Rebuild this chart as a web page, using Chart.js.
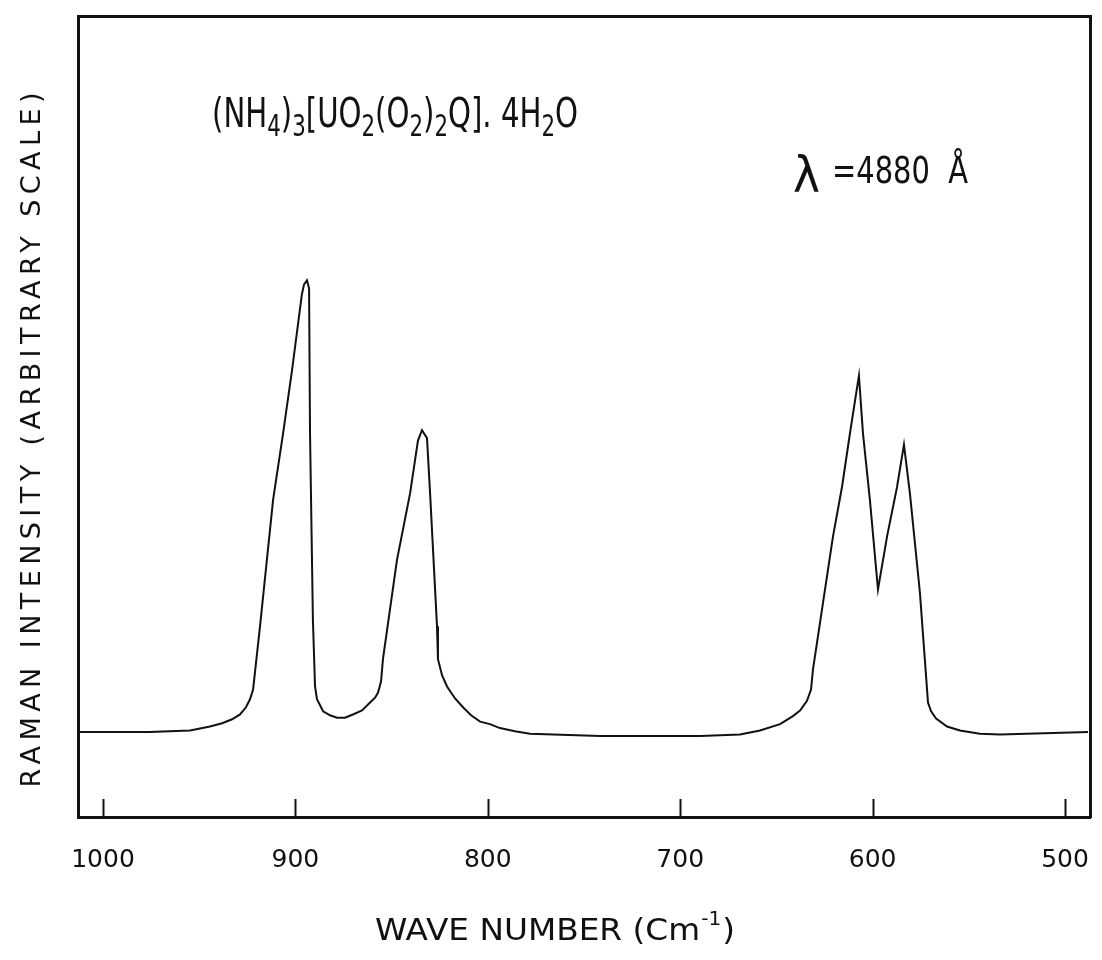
<!DOCTYPE html>
<html>
<head>
<meta charset="utf-8">
<title>Raman spectrum</title>
<script src="https://cdn.jsdelivr.net/npm/chart.js@4.4.1/dist/chart.umd.min.js"></script>
<style>
  html, body { margin: 0; padding: 0; background: #fff; }
  #wrap { width: 1102px; height: 960px; }
</style>
</head>
<body>
<div id="wrap"><canvas id="c" width="1102" height="960"></canvas></div>
<script>
// Raman trace: wave number (cm^-1) and relative intensity (arbitrary units, 0-100)
const waveNumbers = [1012.5, 976, 954.8, 944.4, 938.1, 932.9, 928.8, 925.7, 923.6, 922.0,
  918.4, 911.6, 906.4, 901.8, 896.6, 895.5, 894.0, 892.9, 892.4, 890.9,
  889.8, 888.8, 885.6, 882.0, 878.4, 874.2, 870.1, 865.4, 861.2, 858.6,
  857.1, 855.5, 854.5, 847.2, 840.4, 836.3, 834.2, 831.6, 830.0, 826.4,
  825.9, 823.8, 821.2, 817.0, 812.9, 808.7, 804.0, 798.9, 793.7, 785.9,
  778.1, 741.7, 689.6, 668.9, 658.5, 648.1, 641.4, 637.7, 634.1, 632.0,
  631.0, 625.8, 620.6, 615.9, 611.7, 607.1, 605.0, 601.4, 597.2, 592.5,
  587.3, 583.7, 580.6, 575.4, 571.2, 569.6, 567.0, 561.3, 554.6, 544.2,
  533.8, 488.0];
const intensity = [10.6, 10.6, 10.8, 11.3, 11.7, 12.2, 12.8, 13.7, 14.7, 15.9,
  23.8, 39.6, 47.9, 55.7, 65.3, 66.5, 67.0, 66.0, 47.9, 24.6,
  16.3, 14.7, 13.2, 12.7, 12.4, 12.4, 12.8, 13.3, 14.3, 14.9,
  15.5, 16.9, 19.7, 32.1, 40.4, 47.0, 48.3, 47.3, 40.4, 23.8,
  19.7, 17.7, 16.3, 14.8, 13.7, 12.7, 11.9, 11.6, 11.1, 10.7,
  10.4, 10.1, 10.1, 10.3, 10.8, 11.6, 12.6, 13.3, 14.5, 15.9,
  18.4, 26.7, 35.0, 41.2, 48.0, 55.1, 47.9, 39.6, 28.4, 35.0,
  41.2, 46.5, 40.4, 28.0, 14.3, 13.2, 12.3, 11.3, 10.8, 10.4,
  10.3, 10.6];
const xTickValues = [1000, 900, 800, 700, 600, 500];
const xRange = [487, 1013];
const yRange = [0, 100];

const xTitle = 'WAVE NUMBER (Cm';
const xTitleSup = '-1';
const yTitle = 'RAMAN INTENSITY (ARBITRARY SCALE)';
// compound formula as [text, isSubscript] pieces
const formulaPieces = [['(NH', false], ['4', true], [')', false], ['3', true], ['[UO', false], ['2', true],
  ['(O', false], ['2', true], [')', false], ['2', true], ['Q]. 4H', false], ['2', true], ['O', false]];
const lambdaSymbol = 'λ';
const lambdaValue = '=4880  Å';

const INK = '#111';
const FAMILY = '"DejaVu Sans", "Liberation Sans", sans-serif';

const points = waveNumbers.map((w, i) => ({ x: w, y: intensity[i] }));

// short tick marks drawn inward from the bottom frame
const innerTicks = {
  id: 'innerTicks',
  afterDatasetsDraw(chart) {
    const { ctx, chartArea } = chart;
    const xs = chart.scales.x;
    ctx.save();
    ctx.strokeStyle = INK;
    ctx.lineWidth = 2;
    xTickValues.forEach(v => {
      const px = Math.round(xs.getPixelForValue(v)) + 0.5;
      ctx.beginPath();
      ctx.moveTo(px, chartArea.bottom);
      ctx.lineTo(px, chartArea.bottom - 18);
      ctx.stroke();
    });
    ctx.restore();
  }
};

function spacedText(ctx, text, cx, cy, target) {
  ctx.letterSpacing = '0px';
  const natural = ctx.measureText(text).width;
  const n = Array.from(text).length;
  const sp = (target - natural) / (n - 1);
  ctx.letterSpacing = sp + 'px';
  ctx.textAlign = 'left';
  ctx.fillText(text, cx - target / 2, cy);
  ctx.letterSpacing = '0px';
}

// axis titles and annotations
const labels = {
  id: 'labels',
  afterDraw(chart) {
    const ctx = chart.ctx;
    ctx.save();
    ctx.fillStyle = INK;
    ctx.textBaseline = 'alphabetic';

    // y axis title, rotated
    ctx.save();
    ctx.translate(40, 440);
    ctx.rotate(-Math.PI / 2);
    ctx.font = '27px ' + FAMILY;
    spacedText(ctx, yTitle, 0, 0, 695);
    ctx.restore();

    // x axis title with superscript
    ctx.save();
    ctx.font = '31px ' + FAMILY;
    const mainW = ctx.measureText(xTitle).width;
    ctx.font = '19px ' + FAMILY;
    const supW = ctx.measureText(xTitleSup).width;
    ctx.font = '31px ' + FAMILY;
    const closeW = ctx.measureText(')').width;
    const total = mainW + supW + closeW + 2;
    const target = 360;
    const s = target / total;
    ctx.translate(555 - target / 2, 940);
    ctx.scale(s, 1);
    ctx.textAlign = 'left';
    ctx.fillText(xTitle, 0, 0);
    ctx.font = '19px ' + FAMILY;
    ctx.fillText(xTitleSup, mainW + 1, -15);
    ctx.font = '31px ' + FAMILY;
    ctx.fillText(')', mainW + supW + 2, 0);
    ctx.restore();

    // compound formula
    ctx.save();
    const big = '41px ' + FAMILY, small = '30px ' + FAMILY;
    let w = 0;
    formulaPieces.forEach(([t, sub]) => { ctx.font = sub ? small : big; w += ctx.measureText(t).width; });
    const fs = 366 / w;
    ctx.translate(212, 127);
    ctx.scale(fs, 1);
    let cx = 0;
    formulaPieces.forEach(([t, sub]) => {
      ctx.font = sub ? small : big;
      ctx.fillText(t, cx, sub ? 9 : 0);
      cx += ctx.measureText(t).width;
    });
    ctx.restore();

    // excitation wavelength
    ctx.save();
    ctx.font = '50px ' + FAMILY;
    const lw = ctx.measureText(lambdaSymbol).width;
    ctx.translate(793, 192);
    ctx.scale(27 / lw, 1);
    ctx.fillText(lambdaSymbol, 0, 0);
    ctx.restore();

    ctx.save();
    ctx.font = '38px ' + FAMILY;
    const vw = ctx.measureText(lambdaValue).width;
    ctx.translate(832, 183);
    ctx.scale(136 / vw, 1);
    ctx.fillText(lambdaValue, 0, 0);
    ctx.restore();

    ctx.restore();
  }
};

const frameBorder = { display: true, color: INK, width: 3 };

// fixed box sizes so the plot frame sits at a set place on the canvas
function fixBox(size, horizontal) {
  return s => {
    if (horizontal) s.height = size; else s.width = size;
    s.paddingLeft = 0; s.paddingRight = 0; s.paddingTop = 0; s.paddingBottom = 0;
  };
}

new Chart(document.getElementById('c'), {
  type: 'line',
  data: {
    datasets: [{
      data: points,
      borderColor: INK,
      borderWidth: 2,
      pointRadius: 0,
      fill: false,
      tension: 0
    }]
  },
  options: {
    responsive: false,
    devicePixelRatio: 1,
    animation: false,
    layout: { padding: 0, autoPadding: false },
    plugins: { legend: { display: false }, tooltip: { enabled: false }, title: { display: false } },
    scales: {
      x: {
        type: 'linear',
        position: 'bottom',
        reverse: true,
        min: xRange[0],
        max: xRange[1],
        afterBuildTicks: s => { s.ticks = xTickValues.map(v => ({ value: v })); },
        afterFit: fixBox(143, true),
        grid: { display: false, drawTicks: false },
        border: frameBorder,
        ticks: {
          color: INK,
          padding: 28,
          maxRotation: 0,
          autoSkip: false,
          font: { family: FAMILY, size: 25 },
          callback: v => String(v)
        }
      },
      y: {
        type: 'linear',
        position: 'left',
        min: yRange[0],
        max: yRange[1],
        afterFit: fixBox(78, false),
        grid: { display: false, drawTicks: false },
        border: frameBorder,
        ticks: { display: false }
      },
      xTop: {
        type: 'linear',
        axis: 'x',
        position: 'top',
        min: xRange[0],
        max: xRange[1],
        afterFit: fixBox(16, true),
        grid: { display: false, drawTicks: false },
        border: frameBorder,
        ticks: { display: false }
      },
      yRight: {
        type: 'linear',
        axis: 'y',
        position: 'right',
        min: yRange[0],
        max: yRange[1],
        afterFit: fixBox(12, false),
        grid: { display: false, drawTicks: false },
        border: frameBorder,
        ticks: { display: false }
      }
    }
  },
  plugins: [innerTicks, labels]
});
</script>
</body>
</html>
